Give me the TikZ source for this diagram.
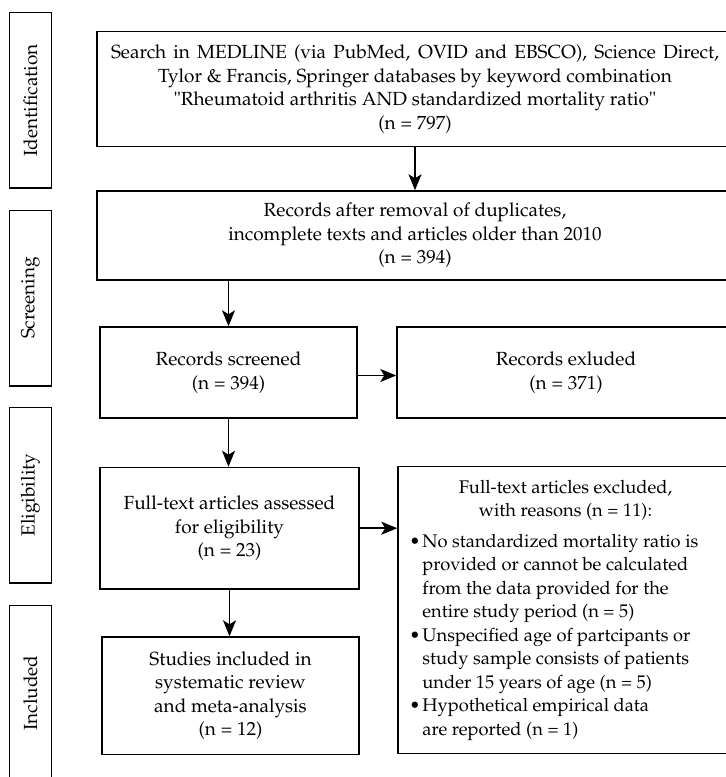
\documentclass[tikz,border=0pt]{standalone}
\usepackage[T1]{fontenc}
\usepackage{mathpazo}
\usetikzlibrary{arrows.meta}
\tikzset{
  mainfont/.style={font=\fontsize{19}{23.5}\selectfont},
  box/.style={draw, line width=1.5pt, inner sep=0pt, align=center, mainfont},
  sidebox/.style={draw, line width=1.5pt, inner sep=0pt, rotate=90,
    minimum width=175.5pt, minimum height=42pt, mainfont},
  listtext/.style={inner sep=0pt, font=\fontsize{18.3}{23.5}\selectfont},
  arr/.style={line width=1.5pt, -{Stealth[length=16pt,width=13pt,inset=4pt]}}
}
\newcommand{\bulitem}{\makebox[13pt][l]{\textbullet}}
\newcommand{\contline}{\hspace*{13pt}}
\begin{document}
\begin{tikzpicture}[x=1pt,y=-1pt]
\useasboundingbox (0,0) rectangle (726,777);
\fill[white] (0,0) rectangle (726,777);
\clip (0,0) rectangle (726,777);

% side stage labels
\node[sidebox] (lid)  at (30.5,100.3) {Identification};
\node[sidebox] (lsc)  at (30.5,298)   {Screening};
\node[sidebox] (lel)  at (30.5,495)   {Eligibility};
\node[sidebox] (lin)  at (30.5,693)   {Included};

% main boxes
\node[box, minimum width=636pt, minimum height=115pt] (search) at (415,89.2)
  {\makebox[608pt][s]{Search in MEDLINE (via PubMed, OVID and EBSCO), Science Direct,}\\
   Tylor \& Francis, Springer databases by keyword combination\\
   \textquotedbl Rheumatoid arthritis AND standardized mortality ratio\textquotedbl\\
   (n = 797)};
\node[box, minimum width=636pt, minimum height=89pt] (dedup) at (415,235.5)
  {Records after removal of duplicates,\\
   incomplete texts and articles older than 2010\\
   (n = 394)};
\node[box, minimum width=257pt, minimum height=91pt] (screen) at (228.5,372.5)
  {Records screened\\ (n = 394)};
\node[box, minimum width=338pt, minimum height=91pt] (exrec) at (566,372.5)
  {Records exluded\\ (n = 371)};
\node[box, minimum width=259pt, minimum height=121.5pt] (full) at (229.5,528.2)
  {Full-text articles assessed\\ for eligibility\\ (n = 23)};
\node[box, minimum width=257pt, minimum height=117.5pt] (incl) at (230.5,695.8)
  {Studies included in\\ systematic review\\ and meta-analysis\\ (n = 12)};
\node[box, minimum width=336pt, minimum height=287pt] (exfull) at (566,610.2) {};
\node[listtext, anchor=west] (exfulltext) at ([xshift=12pt]exfull.west)
  {\begin{minipage}{312pt}\centering
   Full-text articles excluded,\\ with reasons (n = 11):\par\vspace{7pt}
   \raggedright
   \bulitem No standardized mortality ratio is\\
   \contline provided or cannot be calculated\\
   \contline from the data provided for the\\
   \contline entire study period (n = 5)\\
   \bulitem Unspecified age of partcipants or\\
   \contline study sample consists of patients\\
   \contline under 15 years of age (n = 5)\\
   \bulitem Hypothetical empirical data\\
   \contline are reported (n = 1)
   \end{minipage}};

% connectors
\draw[arr] (search.south) -- (dedup.north);
\draw[arr] (screen.north |- dedup.south) -- (screen.north);
\draw[arr] ([yshift=-3pt]screen.east) -- ([yshift=-3pt]screen.east -| exrec.west);
\draw[arr] (screen.south) -- (screen.south |- full.north);
\draw[arr] (full.east) -- (full.east -| exfull.west);
\draw[arr] (full.south) -- (full.south |- incl.north);
\end{tikzpicture}
\end{document}
